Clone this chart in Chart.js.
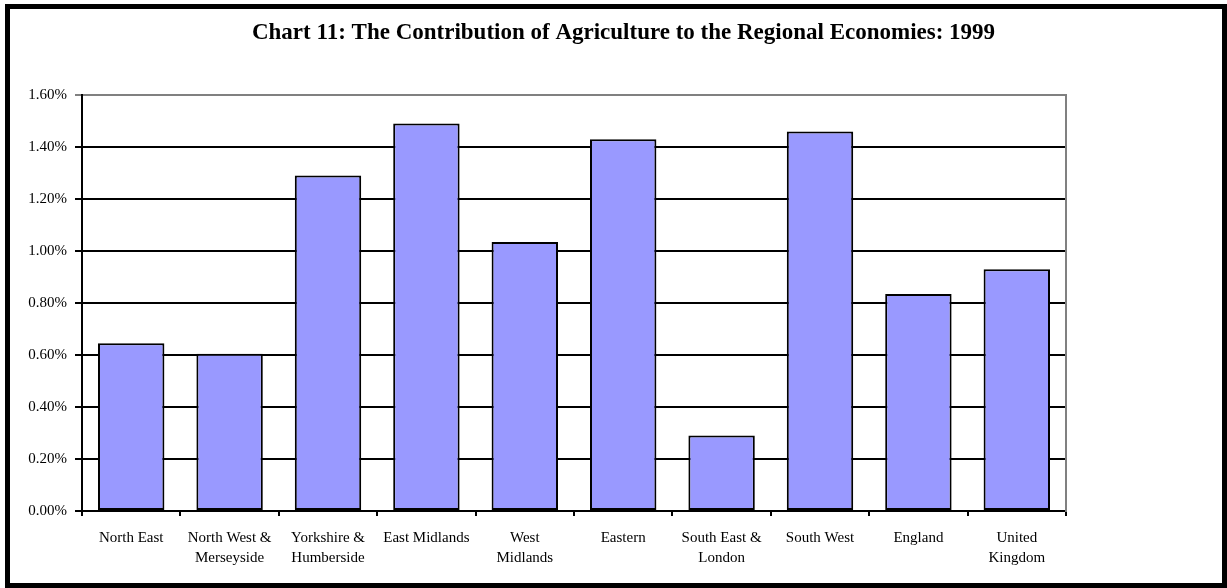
<!DOCTYPE html>
<html>
<head>
<meta charset="utf-8">
<script src="https://cdn.jsdelivr.net/npm/chart.js@4.4.0/dist/chart.umd.min.js"></script>
<style>
  html, body { margin: 0; padding: 0; background: #fff; }
  #wrap { position: relative; width: 1227px; height: 588px; }
</style>
</head>
<body>
<div id="wrap"><canvas id="c" width="1227" height="588"></canvas></div>
<script>
// Regions along the horizontal axis (two-line labels where wrapped)
const regions = [
  'North East',
  ['North West &', 'Merseyside'],
  ['Yorkshire &', 'Humberside'],
  'East Midlands',
  ['West', 'Midlands'],
  'Eastern',
  ['South East &', 'London'],
  'South West',
  'England',
  ['United', 'Kingdom']
];

// Agriculture's share of regional output, in percent
const agricultureShare = [0.645, 0.605, 1.29, 1.49, 1.035, 1.43, 0.29, 1.46, 0.835, 0.93];

// Value axis range and tick step (percent)
const axisMin = 0;
const axisMax = 1.6;
const axisStep = 0.2;

const titleText = 'Chart 11: The Contribution of Agriculture to the Regional Economies: 1999';

const serif = '"Liberation Serif", "Times New Roman", serif';

// Outer frame around the whole chart
const framePlugin = {
  id: 'frame',
  afterDraw(chart) {
    const ctx = chart.ctx;
    ctx.save();
    ctx.strokeStyle = '#000';
    ctx.lineWidth = 5;
    ctx.strokeRect(7.5, 6.5, 1217, 579);
    ctx.restore();
  }
};

new Chart(document.getElementById('c'), {
  type: 'bar',
  data: {
    labels: regions,
    datasets: [{
      data: agricultureShare,
      backgroundColor: '#9999FF',
      borderColor: '#000',
      borderWidth: 2,
      borderSkipped: false,
      categoryPercentage: 1,
      barPercentage: 0.675
    }]
  },
  options: {
    responsive: false,
    animation: false,
    devicePixelRatio: 1,
    layout: { padding: { left: 20, right: 0, top: 0, bottom: 0 } },
    plugins: {
      legend: { display: false },
      tooltip: { enabled: false },
      title: {
        display: true,
        text: titleText,
        color: '#000',
        font: { family: serif, size: 23, weight: 'bold', lineHeight: 1.2 },
        padding: { top: 19.7, bottom: 47.7 }
      }
    },
    scales: {
      x: {
        offset: true,
        grid: {
          offset: true,
          drawOnChartArea: false,
          drawTicks: true,
          tickLength: 5,
          color: '#000',
          lineWidth: 2
        },
        border: { display: true, color: '#000', width: 2 },
        ticks: {
          color: '#000',
          font: { family: serif, size: 15, lineHeight: 1.33 },
          padding: 12,
          autoSkip: false,
          maxRotation: 0,
          minRotation: 0
        },
        afterFit(scale) { scale.height = 77; }
      },
      y: {
        position: 'left',
        min: axisMin,
        max: axisMax,
        grid: {
          color: (ctx) => (ctx.tick && Math.abs(ctx.tick.value - axisMax) < 1e-6) ? '#808080' : '#000',
          lineWidth: 2,
          tickLength: 7,
          drawTicks: true
        },
        border: { display: true, color: '#000', width: 2 },
        ticks: {
          stepSize: axisStep,
          color: '#000',
          padding: 8,
          font: { family: serif, size: 15 },
          callback: (v) => Number(v).toFixed(2) + '%'
        },
        afterFit(scale) { scale.width = 62; }
      },
      yRight: {
        position: 'right',
        min: axisMin,
        max: axisMax,
        grid: { drawOnChartArea: false, drawTicks: false },
        border: { display: true, color: '#808080', width: 2 },
        ticks: { display: false },
        afterFit(scale) { scale.width = 161; }
      }
    }
  },
  plugins: [framePlugin]
});
</script>
</body>
</html>
